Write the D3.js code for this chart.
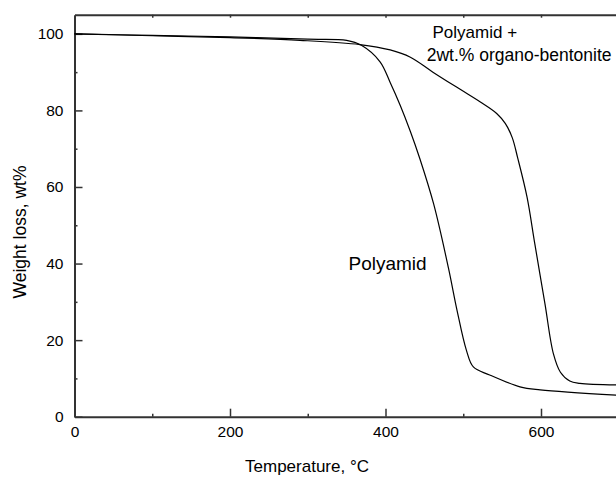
<!DOCTYPE html>
<html>
<head>
<meta charset="utf-8">
<script src="https://cdn.jsdelivr.net/npm/d3@7"></script>
<style>
  body { margin: 0; background: #fff; }
  svg { display: block; font-family: "Liberation Sans", Arial, sans-serif; }
  .axis path.domain { stroke: #333; stroke-width: 2; }
  .axis line { stroke: #333; stroke-width: 1.5; }
  .axis text { font-size: 15.5px; fill: #000; }
</style>
</head>
<body>
<svg id="chart"></svg>
<script>
// TGA curves: temperature (°C) and remaining weight (wt%)
const pureTemp = [0, 100, 200, 300, 350, 369, 393, 406, 419, 432, 444, 462, 481, 492, 504, 513, 534, 573, 599, 700];
const pureWeight = [100, 99.6, 99.2, 98.6, 98.3, 97.0, 92.7, 87.3, 81.3, 74.5, 67.5, 55.5, 38.8, 27.8, 17.4, 13.0, 10.9, 7.8, 7.0, 5.6];

const clayTemp = [0, 100, 200, 290, 367, 406, 432, 461, 496, 522, 543, 554, 563, 570, 582, 592, 605, 616, 625, 637, 650, 700];
const clayWeight = [100, 99.5, 99.0, 98.3, 97.2, 95.8, 93.9, 90.0, 85.5, 82.2, 79.2, 76.6, 72.9, 67.6, 57.4, 45.2, 29.6, 16.4, 11.6, 9.3, 8.7, 8.3];

const xMajor = [0, 200, 400, 600];
const xMinor = [100, 300, 500];
const xTop = [100, 200, 300, 400, 500, 600];
const yMajor = [0, 20, 40, 60, 80, 100];
const yMinor = [10, 30, 50, 70, 90];

const config = {
  width: 616,
  height: 477,
  margin: {top: 14.7, left: 74.5, bottom: 60.3}
};

const svg = d3.select('#chart')
  .attr('width', config.width)
  .attr('height', config.height);

const innerH = config.height - config.margin.top - config.margin.bottom;

// x: 0..700 runs a little past the right edge of the window, as in the picture
const xScale = d3.scaleLinear()
  .domain([0, 700])
  .range([config.margin.left, config.margin.left + 0.7775 * 700]);

const yScale = d3.scaleLinear()
  .domain([0, 105])
  .range([config.margin.top + innerH, config.margin.top]);

const bottomY = yScale(0);
const topY = yScale(105);

// minor ticks first, then the axes with labels on top
svg.append('g')
  .attr('class', 'axis')
  .attr('transform', `translate(0,${bottomY})`)
  .call(d3.axisBottom(xScale).tickValues(xMinor).tickSize(-3).tickFormat(''))
  .call(g => g.select('.domain').remove());

svg.append('g')
  .attr('class', 'axis')
  .attr('transform', `translate(${config.margin.left},0)`)
  .call(d3.axisLeft(yScale).tickValues(yMinor).tickSize(-3).tickFormat(''))
  .call(g => g.select('.domain').remove());

svg.append('g')
  .attr('class', 'axis')
  .attr('transform', `translate(0,${topY})`)
  .call(d3.axisTop(xScale).tickValues(xTop).tickSize(-3).tickSizeOuter(0).tickFormat(''));

svg.append('g')
  .attr('class', 'axis')
  .attr('transform', `translate(0,${bottomY})`)
  .call(d3.axisBottom(xScale).tickValues(xMajor).tickSizeInner(-8).tickSizeOuter(0).tickPadding(9));

svg.append('g')
  .attr('class', 'axis')
  .attr('transform', `translate(${config.margin.left},0)`)
  .call(d3.axisLeft(yScale).tickValues(yMajor).tickSizeInner(-8).tickSizeOuter(0).tickPadding(11));

// curves
const line = d3.line()
  .x(d => xScale(d[0]))
  .y(d => yScale(d[1]))
  .curve(d3.curveCatmullRom.alpha(0.5));

const series = [
  d3.zip(pureTemp, pureWeight),
  d3.zip(clayTemp, clayWeight)
];

svg.selectAll('.curve')
  .data(series)
  .join('path')
  .attr('class', 'curve')
  .attr('fill', 'none')
  .attr('stroke', '#000')
  .attr('stroke-width', 1.2)
  .attr('d', line);

// labels
svg.append('text')
  .attr('x', 348.5)
  .attr('y', 269.5)
  .attr('font-size', 19)
  .text('Polyamid');

svg.append('text')
  .attr('x', 432.5)
  .attr('y', 37.7)
  .attr('font-size', 17)
  .text('Polyamid +');

svg.append('text')
  .attr('x', 426.7)
  .attr('y', 60.7)
  .attr('font-size', 17.5)
  .text('2wt.% organo-bentonite');

svg.append('text')
  .attr('x', 307)
  .attr('y', 472)
  .attr('text-anchor', 'middle')
  .attr('font-size', 17)
  .text('Temperature, °C');

svg.append('text')
  .attr('transform', 'translate(26,232) rotate(-90)')
  .attr('text-anchor', 'middle')
  .attr('font-size', 17.5)
  .text('Weight loss, wt%');
</script>
</body>
</html>
